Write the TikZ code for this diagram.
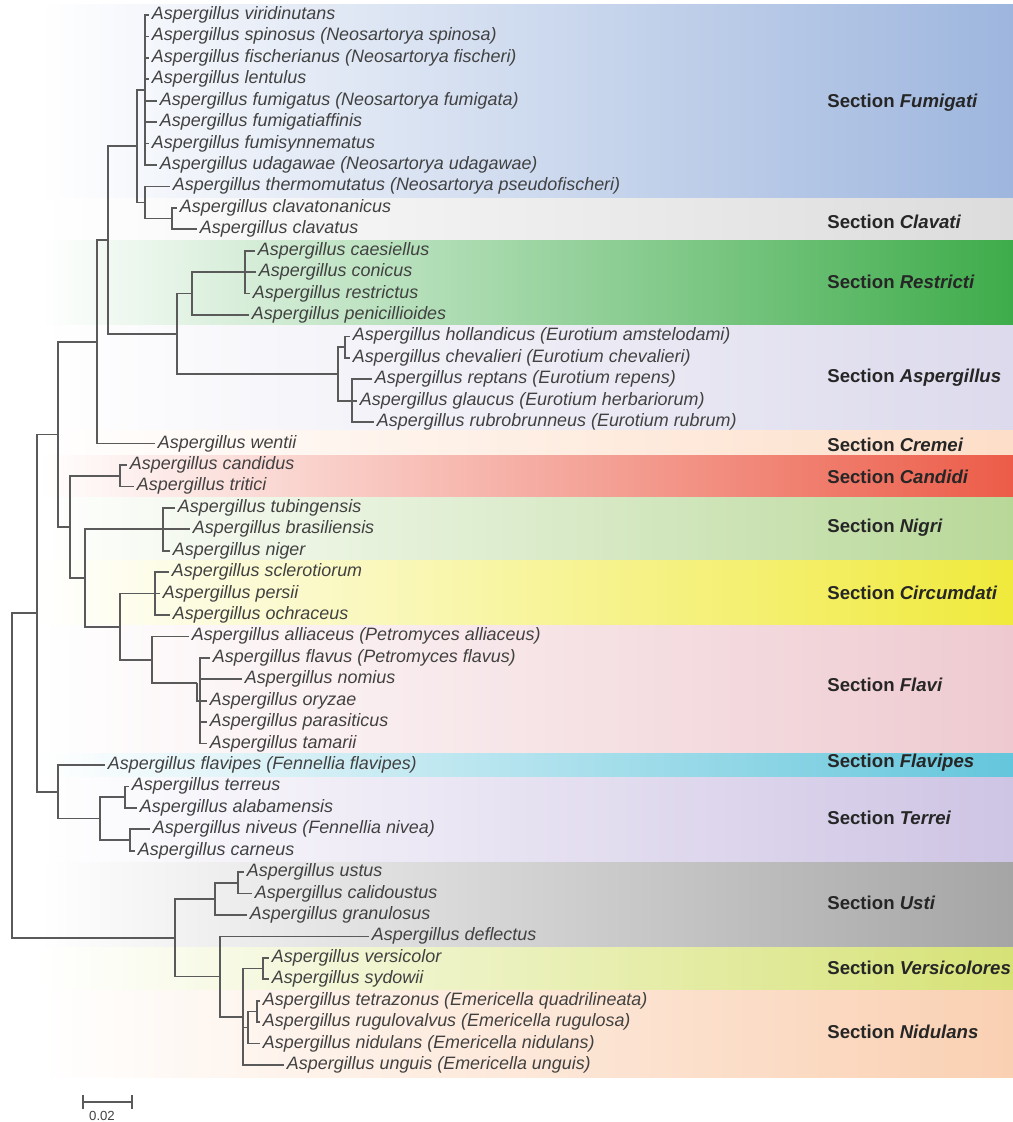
\documentclass[tikz,border=0pt]{standalone}
\usepackage{fontspec}
\setmainfont{Liberation Sans}
\usetikzlibrary{arrows.meta}

\definecolor{cfum}{RGB}{158,182,222}
\definecolor{ccla}{RGB}{220,220,220}
\definecolor{cres}{RGB}{62,172,74}
\definecolor{casp}{RGB}{220,218,236}
\definecolor{ccre}{RGB}{253,222,200}
\definecolor{ccan}{RGB}{236,92,72}
\definecolor{cnig}{RGB}{184,216,152}
\definecolor{ccir}{RGB}{240,234,60}
\definecolor{cfla}{RGB}{238,202,208}
\definecolor{cflp}{RGB}{100,198,220}
\definecolor{cter}{RGB}{206,196,228}
\definecolor{cust}{RGB}{165,165,165}
\definecolor{cver}{RGB}{214,226,118}
\definecolor{cnid}{RGB}{250,208,178}
\definecolor{twigcol}{RGB}{90,90,90}
\definecolor{taxon}{RGB}{65,65,65}

\begin{document}
\begin{tikzpicture}[x=0.02cm, y=-0.02cm]
    % gaya
    \tikzstyle{leaf}=[anchor=west, inner xsep=1.5pt, inner ysep=0pt, text height=7.4pt, text depth=2.2pt, font=\fontsize{10.2}{12}\selectfont\itshape, text=taxon]
    \tikzstyle{sect}=[anchor=west, inner sep=0pt, font=\fontsize{10.6}{12}\selectfont\bfseries, text=black!85]
    \tikzstyle{stem}=[draw=twigcol, line width=0.95pt]

    \useasboundingbox (0,0) rectangle (1013,1122);

    % pita seksi
    \shade[left color=white, middle color=cfum!60, right color=cfum] (40,5) rectangle (1013,198);
    \shade[left color=white, middle color=ccla!60, right color=ccla] (40,198) rectangle (1013,240);
    \shade[left color=white, middle color=cres!60, right color=cres] (40,240) rectangle (1013,325);
    \shade[left color=white, middle color=casp!60, right color=casp] (40,325) rectangle (1013,430);
    \shade[left color=white, middle color=ccre!60, right color=ccre] (40,430) rectangle (1013,455);
    \shade[left color=white, middle color=ccan!60, right color=ccan] (40,455) rectangle (1013,497);
    \shade[left color=white, middle color=cnig!60, right color=cnig] (40,497) rectangle (1013,560);
    \shade[left color=white, middle color=ccir!60, right color=ccir] (40,560) rectangle (1013,625);
    \shade[left color=white, middle color=cfla!60, right color=cfla] (40,625) rectangle (1013,753);
    \shade[left color=white, middle color=cflp!60, right color=cflp] (40,753) rectangle (1013,777);
    \shade[left color=white, middle color=cter!60, right color=cter] (40,777) rectangle (1013,862);
    \shade[left color=white, middle color=cust!60, right color=cust] (40,862) rectangle (1013,947);
    \shade[left color=white, middle color=cver!60, right color=cver] (40,947) rectangle (1013,990);
    \shade[left color=white, middle color=cnid!60, right color=cnid] (40,990) rectangle (1013,1077);

    % nama seksi
    \node[sect] (sfum) at (827,103) {Section \textit{Fumigati}};
    \node[sect] (scla) at (827,222) {Section \textit{Clavati}};
    \node[sect] (sres) at (827,282) {Section \textit{Restricti}};
    \node[sect] (sasp) at (827,378) {Section \textit{Aspergillus}};
    \node[sect] (scre) at (827,445) {Section \textit{Cremei}};
    \node[sect] (scan) at (827,477) {Section \textit{Candidi}};
    \node[sect] (snig) at (827,528) {Section \textit{Nigri}};
    \node[sect] (scir) at (827,593) {Section \textit{Circumdati}};
    \node[sect] (sfla) at (827,685) {Section \textit{Flavi}};
    \node[sect] (sflp) at (827,763) {Section \textit{Flavipes}};
    \node[sect] (ster) at (827,818) {Section \textit{Terrei}};
    \node[sect] (sust) at (827,903) {Section \textit{Usti}};
    \node[sect] (sver) at (827,968) {Section \textit{Versicolores}};
    \node[sect] (snid) at (827,1032) {Section \textit{Nidulans}};

    % takson
    \node[leaf] (viri) at (149,15) {Aspergillus viridinutans};
    \node[leaf] (spin) at (149,36.4) {Aspergillus spinosus (Neosartorya spinosa)};
    \node[leaf] (fisc) at (149,57.9) {Aspergillus fischerianus (Neosartorya fischeri)};
    \node[leaf] (lent) at (149,79.3) {Aspergillus lentulus};
    \node[leaf] (fumi) at (157,100.7) {Aspergillus fumigatus (Neosartorya fumigata)};
    \node[leaf] (fuaf) at (157,122.2) {Aspergillus fumigatiaffinis};
    \node[leaf] (fusy) at (149,143.6) {Aspergillus fumisynnematus};
    \node[leaf] (udag) at (157,165) {Aspergillus udagawae (Neosartorya udagawae)};
    \node[leaf] (ther) at (170,186.4) {Aspergillus thermomutatus (Neosartorya pseudofischeri)};
    \node[leaf] (clvn) at (177,207.9) {Aspergillus clavatonanicus};
    \node[leaf] (clvt) at (197,229.3) {Aspergillus clavatus};
    \node[leaf] (caes) at (255,250.7) {Aspergillus caesiellus};
    \node[leaf] (coni) at (256,272.2) {Aspergillus conicus};
    \node[leaf] (rest) at (250,293.6) {Aspergillus restrictus};
    \node[leaf] (peni) at (249,315) {Aspergillus penicillioides};
    \node[leaf] (holl) at (350,336.4) {Aspergillus hollandicus (Eurotium amstelodami)};
    \node[leaf] (chev) at (350,357.9) {Aspergillus chevalieri (Eurotium chevalieri)};
    \node[leaf] (rept) at (372,379.3) {Aspergillus reptans (Eurotium repens)};
    \node[leaf] (glau) at (357,400.7) {Aspergillus glaucus (Eurotium herbariorum)};
    \node[leaf] (rubr) at (374,422.2) {Aspergillus rubrobrunneus (Eurotium rubrum)};
    \node[leaf] (went) at (155,443.6) {Aspergillus wentii};
    \node[leaf] (cand) at (127,465) {Aspergillus candidus};
    \node[leaf] (trit) at (134,486.4) {Aspergillus tritici};
    \node[leaf] (tubi) at (175,507.9) {Aspergillus tubingensis};
    \node[leaf] (bras) at (190,529.3) {Aspergillus brasiliensis};
    \node[leaf] (nige) at (170,550.7) {Aspergillus niger};
    \node[leaf] (scle) at (169,572.2) {Aspergillus sclerotiorum};
    \node[leaf] (pers) at (160,593.6) {Aspergillus persii};
    \node[leaf] (ochr) at (170,615) {Aspergillus ochraceus};
    \node[leaf] (alli) at (189,636.4) {Aspergillus alliaceus (Petromyces alliaceus)};
    \node[leaf] (flav) at (210,657.9) {Aspergillus flavus (Petromyces flavus)};
    \node[leaf] (nomi) at (242,679.3) {Aspergillus nomius};
    \node[leaf] (oryz) at (207,700.7) {Aspergillus oryzae};
    \node[leaf] (para) at (207,722.2) {Aspergillus parasiticus};
    \node[leaf] (tama) at (207,743.6) {Aspergillus tamarii};
    \node[leaf] (flvp) at (105,765) {Aspergillus flavipes (Fennellia flavipes)};
    \node[leaf] (terr) at (129,786.4) {Aspergillus terreus};
    \node[leaf] (alab) at (137,807.9) {Aspergillus alabamensis};
    \node[leaf] (nive) at (150,829.3) {Aspergillus niveus (Fennellia nivea)};
    \node[leaf] (carn) at (135,850.7) {Aspergillus carneus};
    \node[leaf] (ustu) at (244,872.2) {Aspergillus ustus};
    \node[leaf] (cali) at (252,893.6) {Aspergillus calidoustus};
    \node[leaf] (gran) at (247,915) {Aspergillus granulosus};
    \node[leaf] (defl) at (369,936.4) {Aspergillus deflectus};
    \node[leaf] (vers) at (269,957.9) {Aspergillus versicolor};
    \node[leaf] (sydo) at (269,979.3) {Aspergillus sydowii};
    \node[leaf] (tetr) at (260,1000.7) {Aspergillus tetrazonus (Emericella quadrilineata)};
    \node[leaf] (rugu) at (260,1022.2) {Aspergillus rugulovalvus (Emericella rugulosa)};
    \node[leaf] (nidu) at (260,1043.6) {Aspergillus nidulans (Emericella nidulans)};
    \node[leaf] (ungu) at (284,1065) {Aspergillus unguis (Emericella unguis)};

    % simpul dalam
    \coordinate (fumA) at (145,90);
    \coordinate (clav) at (172,218.6);
    \coordinate (thcl) at (145,202.5);
    \coordinate (fumB) at (137,146);
    \coordinate (resA) at (245,272.2);
    \coordinate (resB) at (192,293.6);
    \coordinate (aspA) at (345,347.2);
    \coordinate (aspB) at (352,400.7);
    \coordinate (aspC) at (338,374);
    \coordinate (rasp) at (177,333.8);
    \coordinate (fura) at (108,240);
    \coordinate (crem) at (97,341.8);
    \coordinate (cndd) at (120,475.7);
    \coordinate (nigr) at (163,529.3);
    \coordinate (circ) at (155,593.6);
    \coordinate (flaC) at (200,700.7);
    \coordinate (flaB) at (197,683);
    \coordinate (flaA) at (152,659.7);
    \coordinate (cifl) at (120,626.7);
    \coordinate (nici) at (85,578);
    \coordinate (cani) at (70,526.9);
    \coordinate (up1) at (58,434.4);
    \coordinate (terA) at (125,797.2);
    \coordinate (terB) at (130,840);
    \coordinate (terC) at (100,818.6);
    \coordinate (fvte) at (58,791.8);
    \coordinate (up2) at (37,613);
    \coordinate (ustA) at (238,882.9);
    \coordinate (ustB) at (215,898.9);
    \coordinate (verA) at (263,968.6);
    \coordinate (nidA) at (257,1011.5);
    \coordinate (nidB) at (248,1027.5);
    \coordinate (vnid) at (243,1016.8);
    \coordinate (dvni) at (220,976.6);
    \coordinate (low) at (175,937.8);
    \coordinate (root) at (12,775.4);

    % cabang
    \draw[stem] (fumA) |- (viri.west) (fumA) |- (spin.west) (fumA) |- (fisc.west) (fumA) |- (lent.west)
                (fumA) |- (fumi.west) (fumA) |- (fuaf.west) (fumA) |- (fusy.west) (fumA) |- (udag.west);
    \draw[stem] (clav) |- (clvn.west) (clav) |- (clvt.west);
    \draw[stem] (thcl) |- (ther.west) (thcl) |- (clav);
    \draw[stem] (fumB) |- (fumA) (fumB) |- (thcl);
    \draw[stem] (resA) |- (caes.west) (resA) |- (coni.west) (resA) |- (rest.west);
    \draw[stem] (resB) |- (resA) (resB) |- (peni.west);
    \draw[stem] (aspA) |- (holl.west) (aspA) |- (chev.west);
    \draw[stem] (aspB) |- (rept.west) (aspB) |- (glau.west) (aspB) |- (rubr.west);
    \draw[stem] (aspC) |- (aspA) (aspC) |- (aspB);
    \draw[stem] (rasp) |- (resB) (rasp) |- (aspC);
    \draw[stem] (fura) |- (fumB) (fura) |- (rasp);
    \draw[stem] (crem) |- (fura) (crem) |- (went.west);
    \draw[stem] (cndd) |- (cand.west) (cndd) |- (trit.west);
    \draw[stem] (nigr) |- (tubi.west) (nigr) |- (bras.west) (nigr) |- (nige.west);
    \draw[stem] (circ) |- (scle.west) (circ) |- (pers.west) (circ) |- (ochr.west);
    \draw[stem] (flaC) |- (flav.west) (flaC) |- (nomi.west) (flaC) |- (oryz.west)
                (flaC) |- (para.west) (flaC) |- (tama.west);
    \draw[stem] (flaB) |- (flaC);
    \draw[stem] (flaA) |- (alli.west) (flaA) |- (flaB);
    \draw[stem] (cifl) |- (circ) (cifl) |- (flaA);
    \draw[stem] (nici) |- (nigr) (nici) |- (cifl);
    \draw[stem] (cani) |- (cndd) (cani) |- (nici);
    \draw[stem] (up1) |- (crem) (up1) |- (cani);
    \draw[stem] (terA) |- (terr.west) (terA) |- (alab.west);
    \draw[stem] (terB) |- (nive.west) (terB) |- (carn.west);
    \draw[stem] (terC) |- (terA) (terC) |- (terB);
    \draw[stem] (fvte) |- (flvp.west) (fvte) |- (terC);
    \draw[stem] (up2) |- (up1) (up2) |- (fvte);
    \draw[stem] (ustA) |- (ustu.west) (ustA) |- (cali.west);
    \draw[stem] (ustB) |- (ustA) (ustB) |- (gran.west);
    \draw[stem] (verA) |- (vers.west) (verA) |- (sydo.west);
    \draw[stem] (nidA) |- (tetr.west) (nidA) |- (rugu.west);
    \draw[stem] (nidB) |- (nidA) (nidB) |- (nidu.west);
    \draw[stem] (vnid) |- (verA) (vnid) |- (nidB) (vnid) |- (ungu.west);
    \draw[stem] (dvni) |- (defl.west) (dvni) |- (vnid);
    \draw[stem] (low) |- (ustB) (low) |- (dvni);
    \draw[stem] (root) |- (up2) (root) |- (low);

    % skala
    \coordinate (sbA) at (82,1102);
    \coordinate (sbB) at (133,1102);
    \draw[stem, {Bar[width=8pt]}-{Bar[width=8pt]}] (sbA) -- (sbB);
    \node[font=\fontsize{7.5}{9}\selectfont, text=taxon] (sblab) at (102,1116) {0.02};
\end{tikzpicture}
\end{document}
